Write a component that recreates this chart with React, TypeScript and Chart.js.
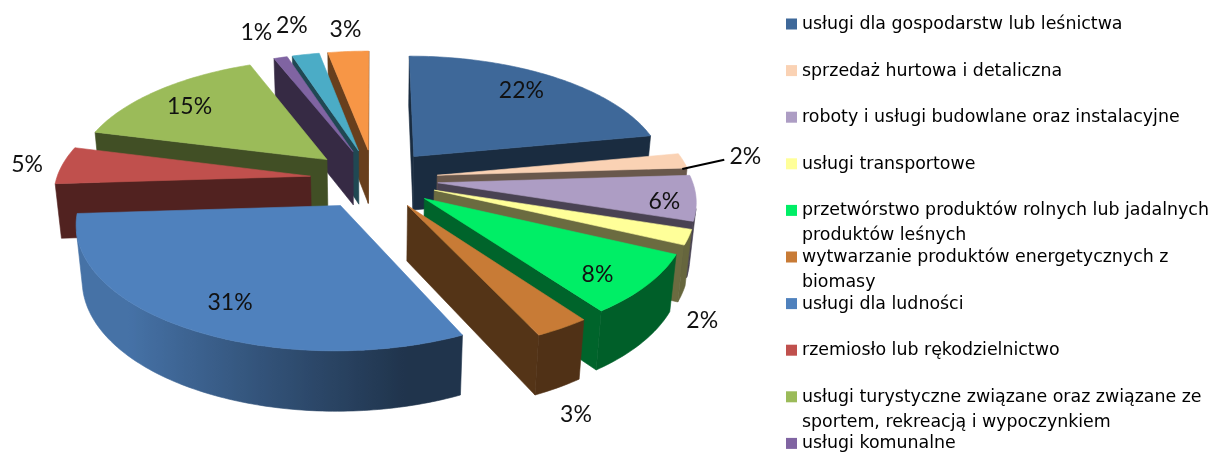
import React, { useEffect, useRef } from "react";
import { Chart, registerables } from "chart.js";

Chart.register(...registerables);

const categories: (string | string[])[] = [
  "usługi dla gospodarstw lub leśnictwa",
  "sprzedaż hurtowa i detaliczna",
  "roboty i usługi budowlane oraz instalacyjne",
  "usługi transportowe",
  ["przetwórstwo produktów rolnych lub jadalnych", "produktów leśnych"],
  ["wytwarzanie produktów energetycznych z", "biomasy"],
  "usługi dla ludności",
  "rzemiosło lub rękodzielnictwo",
  ["usługi turystyczne związane oraz związane ze", "sportem, rekreacją i wypoczynkiem"],
  "usługi komunalne",
  "pozostałe usługi",
  "inne",
];
const values = [22, 2, 6, 2, 8, 3, 31, 5, 15, 1, 2, 3];
const colors = [
  "#3E6899", "#FAD2B4", "#AD9DC4", "#FFFF99", "#00EE66", "#C87B36",
  "#4F81BD", "#C0504D", "#9BBB59", "#8064A2", "#4BACC6", "#F79646",
];
const labelRadius = [0.807, 1.26, 0.875, 1.279, 0.815, 1.44, 0.784, 1.149, 0.793, 1.335, 1.371, 1.277];
const labelTurnDeg = [-3.2, -0.9, 1.7, 24.7, 2.9, 10.2, -2, 0.3, -1.2, -0.9, 0.4, 0.2];
const leaderSlices = [1];

const TILT = 0.468;
const PERSPECTIVE = 0.13;
const DEPTH_SHRINK = 0.02;
const DEPTH_PX = 55.5;
const LEGEND_FONT = '17.4px "DejaVu Sans"';
const VALUE_FONT = '23px Lato';

function shade(hex: string, f: number) {
  const n = parseInt(hex.slice(1), 16);
  const c = [(n >> 16) & 255, (n >> 8) & 255, n & 255].map((v) => Math.round(v * f));
  return `rgb(${c[0]},${c[1]},${c[2]})`;
}

function polyArea(p: number[][]) {
  let s = 0;
  for (let i = 0; i < p.length; i++) {
    const a = p[i];
    const b = p[(i + 1) % p.length];
    s += a[0] * b[1] - b[0] * a[1];
  }
  return s / 2;
}

function fillPoly(ctx: CanvasRenderingContext2D, p: number[][], color: string | CanvasGradient) {
  ctx.beginPath();
  p.forEach((q, i) => (i ? ctx.lineTo(q[0], q[1]) : ctx.moveTo(q[0], q[1])));
  ctx.closePath();
  ctx.fillStyle = color;
  ctx.strokeStyle = color;
  ctx.lineWidth = 0.6;
  ctx.fill();
  ctx.stroke();
}

const pie3d = {
  id: "pie3d",
  beforeDatasetDraw(chart: any) {
    const ctx: CanvasRenderingContext2D = chart.ctx;
    const arcs: any[] = chart.getDatasetMeta(0).data;
    const first = arcs[0];
    const R: number = first.outerRadius;
    const cx: number = first.x;
    const cy: number = first.y;
    const project = (X: number, Y: number, Z: number) => {
      const w = 1 + PERSPECTIVE * Y + DEPTH_SHRINK * Z;
      return [cx + (R * X) / w, cy + (-R * TILT * Y + DEPTH_PX * Z) / w];
    };
    const midOf = (a: any) => (a.startAngle + a.endAngle) / 2;
    const order = arcs
      .map((a, i) => i)
      .sort((i, j) => Math.sin(midOf(arcs[i])) - Math.sin(midOf(arcs[j])));

    order.forEach((i) => {
      const a = arcs[i];
      const e = a.options.offset / R;
      const mid = midOf(a);
      const ox = e * Math.cos(mid);
      const oy = -e * Math.sin(mid);
      const base: string = a.options.backgroundColor;
      const at = (ang: number, Z: number) => project(ox + Math.cos(ang), oy - Math.sin(ang), Z);
      const apex = (Z: number) => project(ox, oy, Z);
      const walls = [
        [at(a.startAngle, 0), apex(0), apex(1), at(a.startAngle, 1)],
        [apex(0), at(a.endAngle, 0), at(a.endAngle, 1), apex(1)],
      ];
      walls.forEach((w) => {
        if (polyArea(w) > 0) fillPoly(ctx, w, shade(base, 0.42));
      });
      const steps = Math.max(4, Math.ceil(((a.endAngle - a.startAngle) * 180) / Math.PI));
      const visible: number[] = [];
      for (let s = 0; s < steps; s++) {
        const t0 = a.startAngle + ((a.endAngle - a.startAngle) * s) / steps;
        const t1 = a.startAngle + ((a.endAngle - a.startAngle) * (s + 1)) / steps;
        if (polyArea([at(t1, 0), at(t0, 0), at(t0, 1), at(t1, 1)]) > 0) {
          if (!visible.length) visible.push(t0);
          visible.push(t1);
        }
      }
      if (visible.length > 1) {
        const upper = visible.map((t) => at(t, 0));
        const lower = visible.map((t) => at(t, 1)).reverse();
        const x0 = upper[0][0];
        const x1 = upper[upper.length - 1][0];
        const g = ctx.createLinearGradient(x0, 0, x1 === x0 ? x0 + 1 : x1, 0);
        visible.forEach((t, k) => {
          const f = Math.min(0.88, Math.max(0.4, 0.52 - 0.5 * Math.cos(t)));
          const pos = Math.min(1, Math.max(0, (upper[k][0] - x0) / ((x1 - x0) || 1)));
          g.addColorStop(pos, shade(base, f));
        });
        fillPoly(ctx, upper.concat(lower), g);
      }
      const top = [apex(0)];
      for (let s = 0; s <= steps; s++) top.push(at(a.startAngle + ((a.endAngle - a.startAngle) * s) / steps, 0));
      fillPoly(ctx, top, base);
    });

    ctx.font = VALUE_FONT;
    ctx.textAlign = "center";
    ctx.textBaseline = "middle";
    const total = (chart.data.datasets[0].data as number[]).reduce((x: number, y: number) => x + y, 0);
    arcs.forEach((a, i) => {
      const e = a.options.offset / R;
      const mid = midOf(a);
      const ang = mid + (labelTurnDeg[i] * Math.PI) / 180;
      const p = project(
        e * Math.cos(mid) + labelRadius[i] * Math.cos(ang),
        -e * Math.sin(mid) - labelRadius[i] * Math.sin(ang),
        0,
      );
      const v = chart.data.datasets[0].data[i] as number;
      ctx.fillStyle = "#111";
      ctx.fillText(`${Math.round((v / total) * 100)}%`, p[0] + 1, p[1] + 2);
      if (leaderSlices.includes(i)) {
        const s = project((e + 1) * Math.cos(mid), -(e + 1) * Math.sin(mid), 0.15);
        ctx.beginPath();
        ctx.moveTo(s[0], s[1]);
        ctx.lineTo(p[0] - 20, p[1] + 5);
        ctx.strokeStyle = "#000";
        ctx.lineWidth = 2;
        ctx.stroke();
      }
    });
    return false;
  },
  afterDraw(chart: any) {
    const ctx: CanvasRenderingContext2D = chart.ctx;
    const labels: (string | string[])[] = chart.data.labels;
    const bg: string[] = chart.data.datasets[0].backgroundColor;
    ctx.save();
    ctx.font = LEGEND_FONT;
    ctx.textAlign = "left";
    ctx.textBaseline = "middle";
    labels.forEach((l, i) => {
      const y = 24.5 + 46.6 * i;
      ctx.fillStyle = bg[i];
      ctx.fillRect(786, y - 6, 11, 11);
      ctx.fillStyle = "#000";
      (Array.isArray(l) ? l : [l]).forEach((line, k) => ctx.fillText(line, 802, y + k * 25));
    });
    ctx.restore();
  },
};

export default function App() {
  const ref = useRef<HTMLCanvasElement>(null);
  useEffect(() => {
    const chart = new Chart(ref.current!, {
      type: "pie",
      data: {
        labels: categories as any,
        datasets: [{ data: values, backgroundColor: colors, borderWidth: 0, offset: 64 }],
      },
      options: {
        responsive: false,
        animation: false,
        radius: 254,
        layout: { padding: { left: 0, top: 0, right: 469, bottom: 94 } },
        plugins: { legend: { display: false }, tooltip: { enabled: false } },
      } as any,
      plugins: [pie3d as any],
    });
    return () => chart.destroy();
  }, []);
  return (
    <div style={{ position: "absolute", left: 0, top: 0, width: 1217, height: 452, overflow: "hidden", background: "#fff" }}>
      <canvas ref={ref} width={1217} height={452} style={{ display: "block" }} />
    </div>
  );
}
